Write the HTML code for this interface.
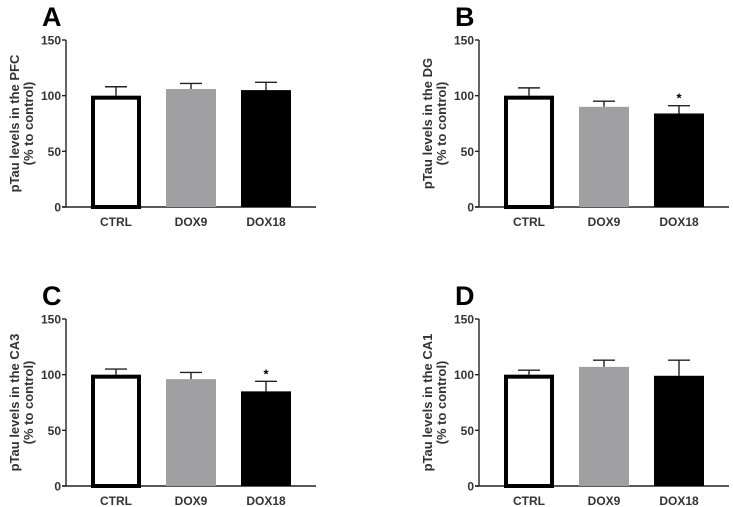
<!DOCTYPE html>
<html><head><meta charset="utf-8"><style>
body{margin:0;background:#fff;}
svg{display:block;font-family:"Liberation Sans",Arial,sans-serif;}
</style></head><body>
<svg id="chart" width="733" height="507"></svg>
<script>
const categories=["CTRL","DOX9","DOX18"];
const panelLetters=["A","B","C","D"];
const regions=["PFC","DG","CA3","CA1"];
const meansA=[100,106,105], errA=[8,5,7];
const meansB=[100,90,84], errB=[7,5,7];
const meansC=[100,96,85], errC=[5,6,9];
const meansD=[100,107,99], errD=[4,6,14];
const starsB=[false,false,true];
const starsC=[false,false,true];
const starsA=[false,false,false];
const starsD=[false,false,false];
const yTicks=[0,50,100,150];
const panels=[
 {ox:66,oy:207,m:meansA,e:errA,s:starsA},
 {ox:479,oy:207,m:meansB,e:errB,s:starsB},
 {ox:66,oy:486,m:meansC,e:errC,s:starsC},
 {ox:479,oy:486,m:meansD,e:errD,s:starsD}];
const fills=["#fff","#a0a0a2","#000"];
const svg=document.getElementById('chart');
const NS="http://www.w3.org/2000/svg";
function mk(t,a,p){const el=document.createElementNS(NS,t);for(const k in a)el.setAttribute(k,a[k]);(p||svg).appendChild(el);return el;}
panels.forEach((p,i)=>{
 const g=mk('g',{});
 
 
 const y=v=>p.oy-v*(167/150);
 const x=j=>p.ox+25+j*75;
 const L=mk('text',{x:p.ox-24,y:p.oy-181,'font-size':27,'font-weight':'bold'},g);L.textContent=panelLetters[i];
 
 const ax=mk('line',{x1:p.ox,y1:y(150),x2:p.ox,y2:p.oy,stroke:'#222','stroke-width':1.4},g);
 
 const xa=mk('line',{x1:p.ox-4,y1:p.oy,x2:p.ox+250,y2:p.oy,stroke:'#222','stroke-width':1.4},g);
 
 yTicks.forEach(t=>{
  mk('line',{x1:p.ox-4,y1:y(t),x2:p.ox,y2:y(t),stroke:'#222','stroke-width':1.4},g);
  const tl=mk('text',{x:p.ox-5,y:y(t)+4.5,'font-size':12,'font-weight':'bold','text-anchor':'end',fill:'#333'},g);tl.textContent=t;
  
 });
 const yt=mk('text',{transform:`translate(${p.ox-47},${y(75)}) rotate(-90)`,'font-size':13,'font-weight':'bold','text-anchor':'middle',fill:'#333'},g);
 
 const t1=mk('tspan',{x:0,dy:0},yt);t1.textContent='pTau levels in the '+regions[i];
 const t2=mk('tspan',{x:0,dy:14},yt);t2.textContent='(% to control)';
 categories.forEach((c,j)=>{
  const top=y(p.m[j]+p.e[j]),cx=x(j)+25;
  mk('line',{x1:cx,y1:top,x2:cx,y2:y(p.m[j]),stroke:'#222','stroke-width':1.4},g);
  mk('line',{x1:cx-11,y1:top,x2:cx+11,y2:top,stroke:'#222','stroke-width':1.4},g);
  const b=j===0?mk('rect',{x:x(j)+2,y:y(p.m[j])+2,width:46,height:p.oy-y(p.m[j])-2,fill:'#fff',stroke:'#000','stroke-width':4},g)
   :mk('rect',{x:x(j),y:y(p.m[j]),width:50,height:p.oy-y(p.m[j]),fill:fills[j]},g);
  
  const cl=mk('text',{x:cx,y:p.oy+19,'font-size':12,'font-weight':'bold','text-anchor':'middle',fill:'#333'},g);cl.textContent=c;
  
  if(p.s[j]){const st=mk('text',{x:cx,y:top-3,'font-size':13,'font-weight':'bold','text-anchor':'middle'},g);st.textContent='*';
   }
 });
});
</script>
</body></html>
